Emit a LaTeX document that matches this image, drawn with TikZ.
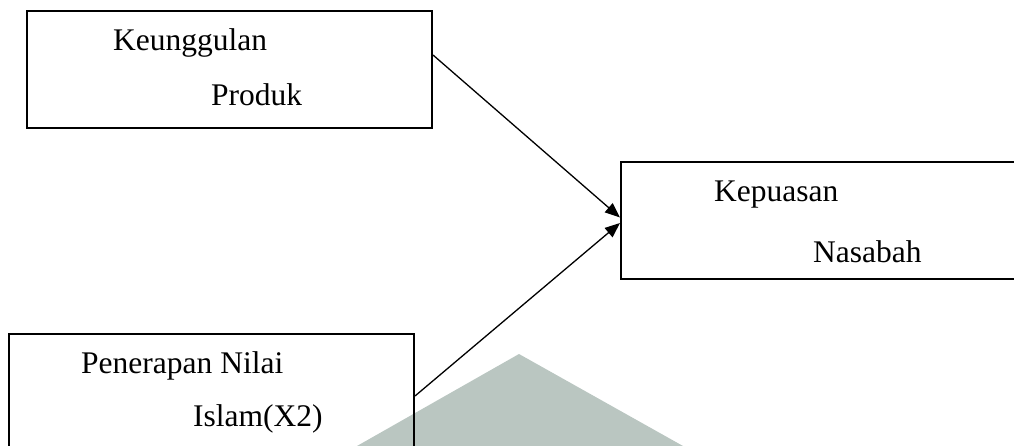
\documentclass[tikz,border=0pt]{standalone}
\usepackage{fontspec}
\setmainfont{Liberation Serif}
\usetikzlibrary{arrows.meta}
\definecolor{wmark}{RGB}{186,198,193}
\tikzset{
  boxnode/.style={draw=black, line width=2pt, rectangle, minimum width=405pt, minimum height=117pt, inner sep=0pt},
  lbl/.style={anchor=base west, inner sep=0pt, font=\fontsize{31.5}{36}\selectfont},
  conn/.style={line width=1.3pt, -{Triangle[length=15pt,width=12pt]}}
}
\begin{document}
\begin{tikzpicture}[x=1pt,y=-1pt]
\useasboundingbox (0,0) rectangle (1014,446);
\clip (0,0) rectangle (1014,446);
\fill[wmark] (357,446) -- (519,354) -- (683,446) -- cycle;
\node[boxnode] (box1) at (229.5,69.5) {};
\node[boxnode, minimum width=420pt] (box2) at (831,220.5) {};
\node[boxnode] (box3) at (211.5,392.5) {};
\node[lbl] (t1) at (113,51) {Keunggulan};
\node[lbl] (t2) at (211,106) {Produk};
\node[lbl] (t3) at (714,202) {Kepuasan};
\node[lbl] (t4) at (813,262) {Nasabah};
\node[lbl] (t5) at (81,373) {Penerapan Nilai};
\node[lbl] (t6) at (193,426) {Islam(X2)};
\draw[conn] ([yshift=14.5pt]box1.east) -- ([yshift=3pt]box2.west);
\draw[conn] ([yshift=-3.5pt]box3.east) -- ([yshift=-2.5pt]box2.west);
\end{tikzpicture}
\end{document}
